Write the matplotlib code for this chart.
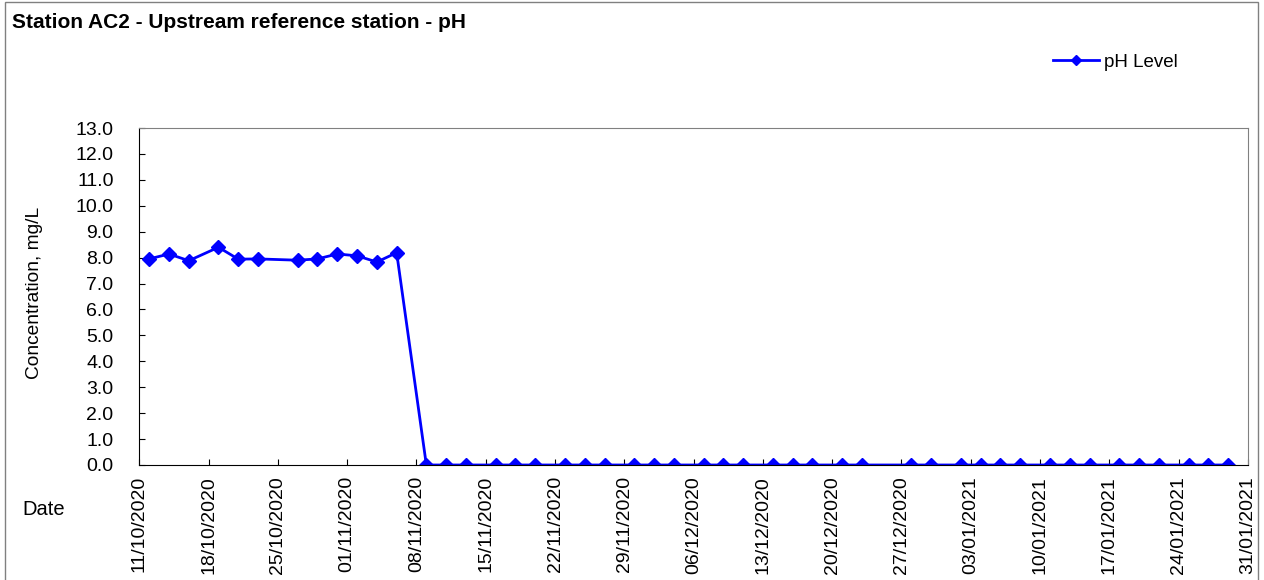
import pandas as pd
import matplotlib as mpl
mpl.use("Agg")
import matplotlib.pyplot as plt
import matplotlib.dates as mdates
from matplotlib.patches import Rectangle

plt.rcParams["font.family"] = ["Liberation Sans", "DejaVu Sans"]

# sample dates and pH readings
dates = [
    "12/10/2020", "14/10/2020", "16/10/2020", "19/10/2020", "21/10/2020", "23/10/2020",
    "27/10/2020", "29/10/2020", "31/10/2020", "02/11/2020", "04/11/2020", "06/11/2020",
    "09/11/2020", "11/11/2020", "13/11/2020", "16/11/2020", "18/11/2020", "20/11/2020",
    "23/11/2020", "25/11/2020", "27/11/2020", "30/11/2020", "02/12/2020", "04/12/2020",
    "07/12/2020", "09/12/2020", "11/12/2020", "14/12/2020", "16/12/2020", "18/12/2020",
    "21/12/2020", "23/12/2020", "28/12/2020", "30/12/2020", "02/01/2021", "04/01/2021",
    "06/01/2021", "08/01/2021", "11/01/2021", "13/01/2021", "15/01/2021", "18/01/2021",
    "20/01/2021", "22/01/2021", "25/01/2021", "27/01/2021", "29/01/2021",
]
ph_level = [
    7.95, 8.14, 7.88, 8.40, 7.94, 7.95,
    7.90, 7.95, 8.14, 8.07, 7.83, 8.19,
    0.0, 0.0, 0.0, 0.0, 0.0, 0.0,
    0.0, 0.0, 0.0, 0.0, 0.0, 0.0,
    0.0, 0.0, 0.0, 0.0, 0.0, 0.0,
    0.0, 0.0, 0.0, 0.0, 0.0, 0.0,
    0.0, 0.0, 0.0, 0.0, 0.0, 0.0,
    0.0, 0.0, 0.0, 0.0, 0.0,
]
x_start = "11/10/2020"
x_end = "31/01/2021"

df = pd.DataFrame({"date": pd.to_datetime(dates, dayfirst=True), "ph": ph_level})

fig = plt.figure(figsize=(12.64, 5.8), dpi=100)
ax = fig.add_axes([0.1102, 0.1983, 0.8771, 0.581])

ax.plot(df["date"], df["ph"], color="#0000FF", lw=2, marker="D", ms=7.5,
        label="pH Level")

ax.set_xlim(pd.to_datetime(x_start, dayfirst=True), pd.to_datetime(x_end, dayfirst=True))
ax.set_ylim(0, 13)
ax.set_yticks([i * 1.0 for i in range(14)])
ax.yaxis.set_major_formatter(mpl.ticker.FormatStrFormatter("%.1f"))
ax.xaxis.set_major_locator(mdates.DayLocator(interval=7))
ax.xaxis.set_major_formatter(mdates.DateFormatter("%d/%m/%Y"))
plt.setp(ax.get_xticklabels(), rotation=90)

ax.tick_params(axis="both", direction="in", length=4, labelsize=14, colors="black")
ax.tick_params(axis="x", pad=8)
ax.tick_params(axis="y", pad=18.5)
for s in ["top", "right"]:
    ax.spines[s].set_color("#808080")
for s in ["left", "bottom"]:
    ax.spines[s].set_color("black")

fig.text(0.027, 0.4957, "Concentration, mg/L", rotation=90, fontsize=13.8,
         ha="center", va="center")
fig.text(0.0174, 0.121, "Date", fontsize=14.5, ha="left", va="center")
fig.text(0.0095, 0.962, "Station AC2 - Upstream reference station - pH",
         fontsize=15, fontweight="bold", ha="left", va="center")

ax.legend(loc="center left", bbox_to_anchor=(1053 / 1264, 1 - 62 / 580),
          bbox_transform=fig.transFigure, frameon=False, fontsize=13.5,
          borderpad=0, borderaxespad=0, handlelength=2.45, handletextpad=0.25,
          markerscale=0.7)

fig.patches.append(Rectangle((0.004, -0.05), 0.991, 1.046, transform=fig.transFigure,
                             fill=False, edgecolor="#808080", lw=1))

fig.savefig("out.png", dpi=100)
